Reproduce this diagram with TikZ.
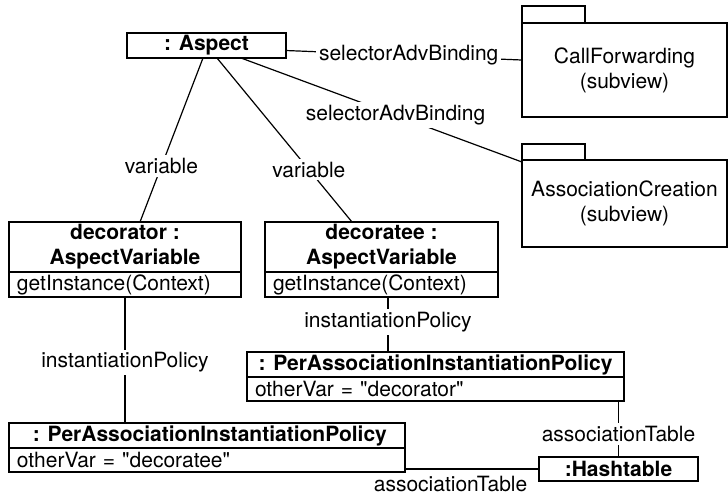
\documentclass[tikz,border=0pt]{standalone}
\usepackage{fontspec}
\setmainfont{TeX Gyre Heros}
\usetikzlibrary{positioning}
\newcommand\umlsize{\fontsize{10.5}{12.5}\selectfont}
\tikzset{
  obj/.style={draw, line width=0.6pt, inner sep=0pt, outer sep=0pt, align=center, font=\umlsize\bfseries},
  attr/.style={draw, line width=0.6pt, inner xsep=4pt, inner ysep=0pt, outer sep=0pt, align=left, font=\umlsize},
  pkg/.style={draw, line width=0.6pt, inner sep=0pt, outer sep=0pt, align=center, font=\umlsize},
  lbl/.style={fill=white, inner sep=1.5pt, font=\umlsize},
  link/.style={line width=0.6pt}
}
\begin{document}
\begin{tikzpicture}[x=0.5pt, y=-0.5pt]
\useasboundingbox (0,0) rectangle (728,495);
% objects
\node[obj, minimum width=79.5pt, minimum height=12.5pt] (aspect) at (206.5,45.5) {: Aspect};
\node[obj, minimum width=116pt, minimum height=25pt] (decorator) at (125,247) {decorator :\\AspectVariable};
\node[attr, text width=108pt, minimum height=12.5pt, below=0pt of decorator] (decoratorop) {getInstance(Context)};
\node[obj, minimum width=116.5pt, minimum height=25pt] (decoratee) at (381.5,247) {decoratee :\\AspectVariable};
\node[attr, text width=108.5pt, minimum height=12.5pt, below=0pt of decoratee] (decorateeop) {getInstance(Context)};
\node[obj, minimum width=188.5pt, minimum height=12.5pt] (policyb) at (435.5,364.5) {: PerAssociationInstantiationPolicy};
\node[attr, text width=180.5pt, minimum height=12pt, below=0pt of policyb] (policybattr) {otherVar = \textquotedbl decorator\textquotedbl};
\node[obj, minimum width=198pt, minimum height=12.5pt] (policya) at (207,435.5) {\ : PerAssociationInstantiationPolicy};
\node[attr, text width=190pt, minimum height=12pt, below=0pt of policya] (policyaattr) {otherVar = \textquotedbl decoratee\textquotedbl};
\node[obj, minimum width=79.5pt, minimum height=12pt] (hash) at (618.5,469) {:Hashtable};
% subview packages
\node[pkg, minimum width=102.5pt, minimum height=47pt] (callfwd) at (624.5,70) {CallForwarding\\(subview)};
\node[pkg, minimum width=31.5pt, minimum height=8.5pt, anchor=south west] (callfwdtab) at (callfwd.north west) {};
\node[pkg, minimum width=102.5pt, minimum height=43.5pt] (assoccr) at (624.5,203.5) {AssociationCreation\\(subview)};
\node[pkg, minimum width=31.5pt, minimum height=8pt, anchor=south west] (assoccrtab) at (assoccr.north west) {};
% links
\draw[link] ([xshift=-1.75pt]aspect.south) -- node[lbl, pos=0.66]{variable} ([xshift=7.5pt]decorator.north);
\draw[link] ([xshift=5.25pt]aspect.south) -- node[lbl, pos=0.68]{variable} ([xshift=-14.75pt]decoratee.north);
\draw[link] ([yshift=-2.5pt]aspect.east) -- node[lbl, pos=0.52]{selectorAdvBinding} ([yshift=5pt]callfwd.west);
\draw[link] ([xshift=-22.5pt]aspect.south east) -- node[lbl, pos=0.55]{selectorAdvBinding} ([yshift=-1pt]assoccr.north west);
\draw[link] (decoratorop.south) -- node[lbl, pos=0.52]{instantiationPolicy} (decoratorop.south |- policya.north);
\draw[link] ([xshift=3.25pt]decorateeop.south) -- node[lbl, pos=0.46]{instantiationPolicy} ([xshift=3.25pt]decorateeop.south |- policyb.north);
\draw[link] (policybattr.south -| hash.north) -- node[lbl, pos=0.59]{associationTable} (hash.north);
\draw[link] (policyaattr.east |- hash.west) -- node[below, pos=0.34, font=\umlsize]{associationTable} (hash.west);
\end{tikzpicture}
\end{document}
